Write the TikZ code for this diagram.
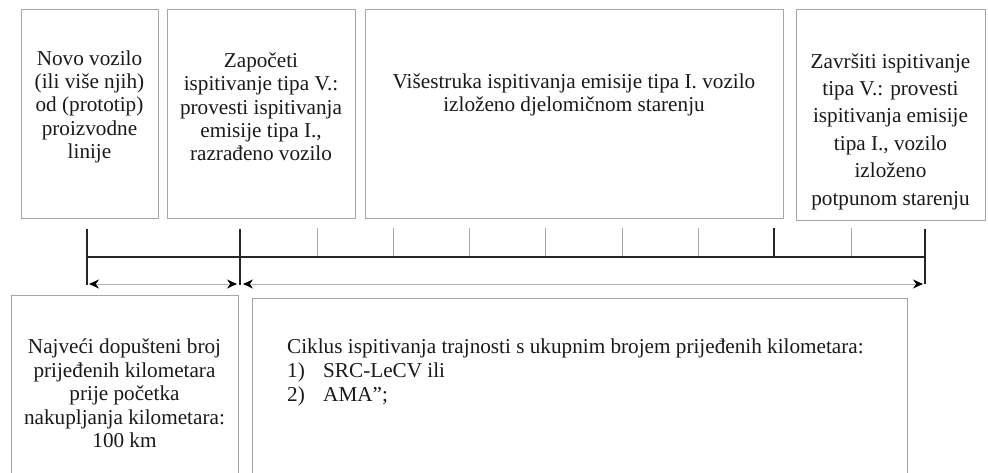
\documentclass[tikz,border=0pt]{standalone}
\usepackage{fontspec}
\setmainfont{Liberation Serif}
\usetikzlibrary{arrows.meta}
\begin{document}
\begin{tikzpicture}[x=1pt,y=-1pt,
 box/.style={draw=gray!70, line width=0.9pt, inner sep=0pt, anchor=north west},
 txt/.style={font=\fontsize{21.2}{23.4}\selectfont, align=center, inner sep=0pt, text=black!90},
 txtwide/.style={font=\fontsize{21.2}{27.4}\selectfont, align=center, inner sep=0pt, text=black!90},
 tl/.style={line width=1.8pt, draw=black!85},
 tk/.style={line width=0.9pt, draw=gray!70},
 tip/.style={Stealth[black,length=10pt,width=9pt]},
 arr/.style={line width=0.9pt, draw=gray!60, {Stealth[black,length=10pt,width=9pt]}-{Stealth[black,length=10pt,width=9pt]}}]
\useasboundingbox (0,0) rectangle (988,473);
\clip (0,0) rectangle (988,473);
% top boxes
\node[box, minimum width=137pt, minimum height=209pt] (b1) at (21,9) {};
\node[box, minimum width=188pt, minimum height=209pt] (b2) at (167,9) {};
\node[box, minimum width=418pt, minimum height=209pt] (b3) at (365,9) {};
\node[box, minimum width=189pt, minimum height=211pt] (b4) at (796,9) {};
% bottom boxes
\node[box, minimum width=227pt, minimum height=200pt] (b5) at (11,295) {};
\node[box, minimum width=655pt, minimum height=200pt] (b6) at (252,298) {};
% texts
\node[txt] (t1) at (89.5,106.8) {Novo vozilo\\(ili više njih)\\od (prototip)\\proizvodne\\linije};
\node[txt] (t2) at (261,106.8) {Započeti\\ispitivanje tipa V.:\\provesti ispitivanja\\emisije tipa I.,\\razrađeno vozilo};
\node[txt] (t3) at (574,95.1) {Višestruka ispitivanja emisije tipa I. vozilo\\izloženo djelomičnom starenju};
\node[txtwide] (t4) at (890.5,131.5) {Završiti ispitivanje\\tipa V.: provesti\\ispitivanja emisije\\tipa I., vozilo\\izloženo\\potpunom starenju};
\node[txt] (t5) at (124.5,393.5) {Najveći dopušteni broj\\prijeđenih kilometara\\prije početka\\nakupljanja kilometara:\\100 km};
\node[font=\fontsize{21.2}{24}\selectfont, align=left, inner sep=0pt, text=black!90, anchor=west] (t6) at (287,372)
 {Ciklus ispitivanja trajnosti s ukupnim brojem prijeđenih kilometara:\\
  \makebox[36pt][l]{1)}SRC-LeCV ili\\
  \makebox[36pt][l]{2)}AMA”;};
% timeline
\coordinate (a0) at (87,257);
\coordinate (z0) at (925,257);
\foreach \x in {317,393,469,545,622,698,851}{
  \draw[tk] (\x,228) -- (\x,257);
}
\draw[tl] (a0) -- (z0);
\draw[tl] (87,229) -- (87,285);
\draw[tl] (240,229) -- (240,285);
\draw[tl] (774,228) -- (774,257);
\draw[tl] (925,229) -- (925,284);
% arrows
\coordinate (p1) at (89,284);
\coordinate (p2) at (237,284);
\coordinate (p3) at (243,284);
\coordinate (p4) at (923,284);
\draw[arr] (p1) -- (p2);
\draw[arr] (p3) -- (p4);
\end{tikzpicture}
\end{document}
